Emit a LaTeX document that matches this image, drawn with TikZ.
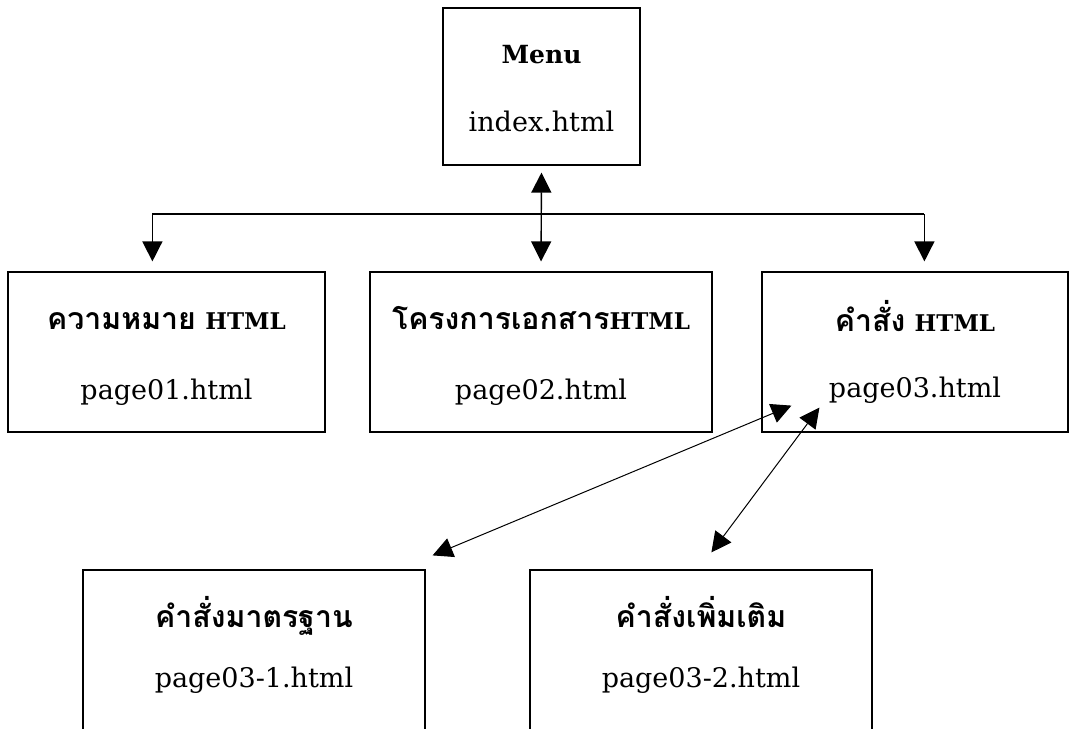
\documentclass[tikz,border=0pt]{standalone}
\usepackage{fontspec}
\setmainfont{DejaVu Serif}
\newfontfamily\thaifont[Script=Thai,Scale=1.12]{Loma}
\usetikzlibrary{arrows.meta,calc}

\newcommand{\thb}[1]{{\thaifont\bfseries #1}}
\newcommand{\htm}{{\fontsize{23}{28}\selectfont HTML}}

\tikzset{
  page/.style={draw, line width=1.2pt, minimum width=#1, minimum height=160pt,
               inner sep=0pt},
  ttl/.style={anchor=base, inner sep=0pt, font=\fontsize{27}{32}\selectfont\bfseries},
  fname/.style={anchor=base, inner sep=0pt, font=\fontsize{27}{32}\selectfont},
  link/.style={line width=1.4pt, -{Triangle[length=20pt,width=20pt]}},
  blink/.style={line width=1.4pt, {Triangle[length=20pt,width=20pt]}-{Triangle[length=20pt,width=20pt]}},
  slink/.style={line width=1pt, {Triangle[length=20pt,width=20pt]}-{Triangle[length=20pt,width=20pt]}}
}

\begin{document}
\begin{tikzpicture}[x=1pt,y=-1pt]
\useasboundingbox (0,0) rectangle (1070,728);

% boxes
\node[page=197pt, minimum height=157pt] (menu) at (541.5,86.5) {};
\node[page=317pt] (p1) at (166.5,352) {};
\node[page=342pt] (p2) at (541,352) {};
\node[page=306pt] (p3) at (915,352) {};
\node[page=342pt] (p31) at (254,650) {};
\node[page=342pt] (p32) at (701,650) {};

% box texts
\node[ttl, font=\fontsize{25}{30}\selectfont\bfseries] (menut) at ($(menu.north)+(0,56)$) {Menu};
\node[fname] (menuf) at ($(menu.north)+(0,124)$) {index.html};

\node[ttl] (p1t) at ($(p1.north)+(0,58)$) {\thb{ความหมาย} \htm};
\node[fname] (p1f) at ($(p1.north)+(0,128)$) {page01.html};
\node[ttl] (p2t) at ($(p2.north)+(0,58)$) {\thb{โครงการเอกสาร}\htm};
\node[fname] (p2f) at ($(p2.north)+(0,128)$) {page02.html};
\node[ttl] (p3t) at ($(p3.north)+(0,60)$) {\thb{คำสั่ง} \htm};
\node[fname] (p3f) at ($(p3.north)+(0,126)$) {page03.html};

\node[ttl] (p31t) at ($(p31.north)+(0,58)$) {\thb{คำสั่งมาตรฐาน}};
\node[fname] (p31f) at ($(p31.north)+(0,118)$) {page03-1.html};
\node[ttl] (p32t) at ($(p32.north)+(0,58)$) {\thb{คำสั่งเพิ่มเติม}};
\node[fname] (p32f) at ($(p32.north)+(0,118)$) {page03-2.html};

% bus from the menu
\coordinate (bus) at (541,214);
\coordinate (b1) at ($(p1.north west)+(145,-10)$);
\coordinate (b3) at ($(p3.north west)+(163,-10)$);
\draw[line width=1.4pt] (b1 |- bus) -- (b3 |- bus);
\draw[link] (b1 |- bus) -- (b1);
\draw[link] (b3 |- bus) -- (b3);
\draw[blink, shorten <=7pt, shorten >=10pt] (menu.south) -- (p2.north);

% links from page03 to its sub-pages
\draw[slink] ($(p3.south west)+(30,-27)$) -- ($(p31.north east)+(7,-14)$);
\draw[slink] ($(p3.south west)+(58,-25)$) -- ($(p32.north west)+(182,-17)$);
\end{tikzpicture}
\end{document}
